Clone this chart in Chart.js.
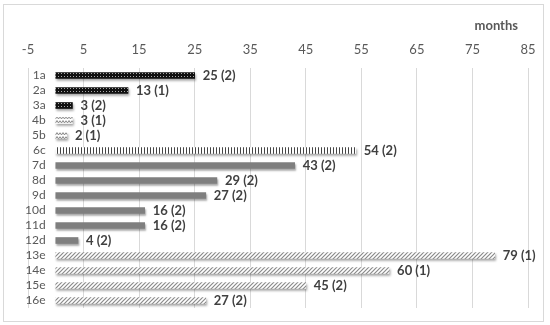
<!DOCTYPE html>
<html><head><meta charset="utf-8">
<script src="https://cdn.jsdelivr.net/npm/chart.js@4/dist/chart.umd.min.js"></script>
<style>html,body{margin:0;padding:0;background:#fff}#wrap{width:550px;height:325px;position:relative}</style>
</head><body><div id="wrap"><canvas id="c" width="550" height="325"></canvas></div>
<script>
const categories = ['1a','2a','3a','4b','5b','6c','7d','8d','9d','10d','11d','12d','13e','14e','15e','16e'];
const months = [25,13,3,3,2,54,43,29,27,16,16,4,79,60,45,27];
const counts = [2,1,2,1,1,2,2,2,2,2,2,2,1,1,2,2];
const axisTitle = 'months';
const xMin = -5, xMax = 85, xStep = 10;

function tile(w, h, draw) {
  const c = document.createElement('canvas');
  c.width = w; c.height = h;
  const g = c.getContext('2d');
  draw(g);
  return document.getElementById('c').getContext('2d').createPattern(c, 'repeat');
}
const patterns = {
  a: tile(3, 3, g => { g.fillStyle = '#111'; g.fillRect(0,0,3,3); g.fillStyle = '#aaa'; g.fillRect(1,1,1,1); }),
  b: tile(6, 4, g => { g.fillStyle = '#fff'; g.fillRect(0,0,6,4); g.strokeStyle = '#888'; g.lineWidth = 1;
        g.beginPath(); g.moveTo(0,0.5); g.lineTo(1.5,3); g.lineTo(3,0.5); g.lineTo(4.5,3); g.lineTo(6,0.5); g.stroke(); }),
  c: tile(3, 1, g => { g.fillStyle = '#fff'; g.fillRect(0,0,3,1); g.fillStyle = '#444'; g.fillRect(0,0,1,1); }),
  d: '#7f7f7f',
  e: tile(4, 4, g => { g.fillStyle = '#fff'; g.fillRect(0,0,4,4); g.strokeStyle = '#8a8a8a'; g.lineWidth = 1.2;
        g.beginPath(); g.moveTo(0,4); g.lineTo(4,0); g.moveTo(-1,1); g.lineTo(1,-1); g.moveTo(3,5); g.lineTo(5,3); g.stroke(); })
};
const colors = categories.map(c => patterns[c.slice(-1)]);

const shadowPlugin = {
  id: 'shadow',
  beforeDatasetsDraw(chart) {
    const ctx = chart.ctx; ctx.save();
    ctx.shadowColor = 'rgba(0,0,0,0.35)'; ctx.shadowOffsetX = 1; ctx.shadowOffsetY = 2; ctx.shadowBlur = 2;
  },
  afterDatasetsDraw(chart) {
    const ctx = chart.ctx; ctx.restore();
    ctx.save();
    ctx.font = 'bold 13px Lato'; ctx.fillStyle = '#404040'; ctx.textBaseline = 'middle'; ctx.textAlign = 'left';
    chart.getDatasetMeta(0).data.forEach((el, i) => {
      ctx.fillText(months[i] + ' (' + counts[i] + ')', el.x + 8, el.y + 0.5);
    });
    ctx.restore();
  },
  afterDraw(chart) {
    const ctx = chart.ctx; ctx.save();
    ctx.strokeStyle = '#d9d9d9'; ctx.lineWidth = 1; ctx.strokeRect(3.5, 4.5, 540, 317);
    ctx.font = 'bold 13px Lato'; ctx.fillStyle = '#595959'; ctx.textAlign = 'right'; ctx.textBaseline = 'middle';
    ctx.fillText(axisTitle, chart.chartArea.right - 10, 26);
    ctx.restore();
  }
};

new Chart(document.getElementById('c'), {
  type: 'bar',
  data: { labels: categories, datasets: [{ data: months, backgroundColor: colors, borderWidth: 0, barThickness: 6 }] },
  options: {
    indexAxis: 'y', responsive: false, animation: false, devicePixelRatio: 1,
    layout: { padding: { left: 0, right: 22, top: 0, bottom: 17 } },
    plugins: { legend: { display: false }, tooltip: { enabled: false } },
    scales: {
      x: {
        position: 'top', min: xMin, max: xMax,
        ticks: { stepSize: xStep, color: '#595959', font: { family: 'Lato', size: 13 }, padding: 10 },
        grid: { color: '#d9d9d9', drawTicks: false, lineWidth: 1 },
        border: { display: false },
        afterFit(s) { s.height = 68; }
      },
      y: {
        grid: { display: false }, border: { display: false },
        ticks: { autoSkip: false, mirror: true, crossAlign: 'far', padding: -3, color: '#595959', font: { family: 'Lato', size: 12 } },
        afterFit(s) { s.width = 28; }
      }
    }
  },
  plugins: [shadowPlugin]
});
</script></body></html>
